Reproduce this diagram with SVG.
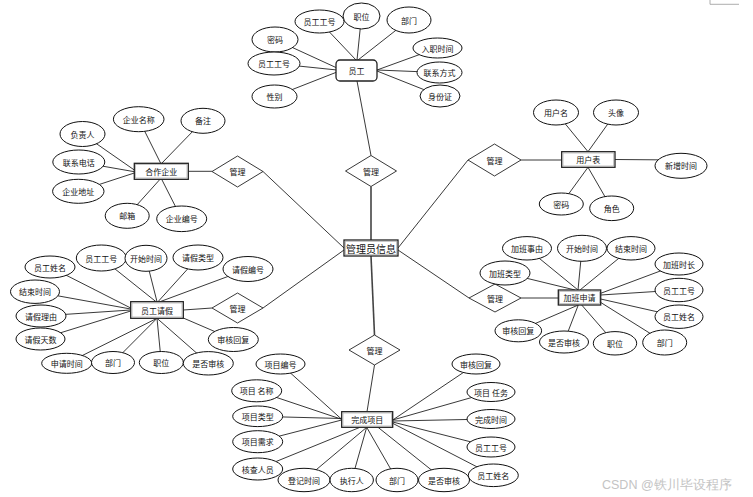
<svg xmlns="http://www.w3.org/2000/svg" width="753" height="497" viewBox="0 0 753 497">
<style>
text{font-family:"Noto Sans CJK SC","Liberation Sans",sans-serif;font-size:8px;fill:#111;text-anchor:middle;dominant-baseline:central}
.a{fill:#fff;stroke:#111;stroke-width:1}
.d{fill:#fff;stroke:#222;stroke-width:0.9}
.en{fill:#fff;stroke:#222;stroke-width:1.3}
.in{fill:none;stroke:#aaa;stroke-width:0.7}
.c line{stroke:#222;stroke-width:0.9}
.c .t{stroke:#444;stroke-width:1.6}
.big{font-size:10px}
.wm{font-family:"Liberation Sans",sans-serif;font-size:12.5px;fill:#c4c4c4;text-anchor:start}
</style>
<rect width="753" height="497" fill="#fff"/>
<path d="M710 0V4.3H739" fill="none" stroke="#999" stroke-width="0.8"/>
<g id="connectors" class="c">
<!-- employee -->
<line x1="319.5" y1="21.5" x2="356" y2="60"/>
<line x1="361.5" y1="16" x2="357" y2="60"/>
<line x1="409" y1="20" x2="358" y2="60"/>
<line x1="275" y1="39.5" x2="337" y2="68"/>
<line x1="274" y1="63.5" x2="337" y2="70"/>
<line x1="274.5" y1="96.5" x2="337" y2="72"/>
<line x1="437.5" y1="48" x2="377" y2="70"/>
<line x1="439.5" y1="72.5" x2="377" y2="70"/>
<line x1="440" y1="96" x2="377" y2="71"/>
<line x1="357" y1="81" x2="371" y2="155.5"/>
<!-- manager -->
<line class="t" x1="371" y1="186.5" x2="371" y2="240"/>
<line x1="263" y1="171.5" x2="344" y2="248"/>
<line x1="468" y1="160" x2="398" y2="248"/>
<line x1="469" y1="298" x2="398" y2="250"/>
<line x1="263" y1="308" x2="344" y2="250"/>
<line class="t" x1="371" y1="256" x2="374.5" y2="335"/>
<line x1="374.5" y1="365" x2="367" y2="411.7"/>
<!-- coop -->
<line x1="188.3" y1="171.3" x2="212" y2="171.3"/>
<line x1="138.7" y1="119.2" x2="160.7" y2="163.3"/>
<line x1="203" y1="120.8" x2="161.7" y2="163.3"/>
<line x1="82.5" y1="134" x2="134.3" y2="170"/>
<line x1="78.8" y1="162" x2="134.3" y2="171.7"/>
<line x1="78.3" y1="191.3" x2="134.3" y2="173"/>
<line x1="127.2" y1="215.8" x2="160" y2="179.3"/>
<line x1="181.7" y1="218.8" x2="161.7" y2="179.3"/>
<!-- user -->
<line x1="521" y1="160" x2="561.7" y2="160"/>
<line x1="556" y1="112.5" x2="588" y2="151.7"/>
<line x1="616" y1="112.5" x2="588" y2="151.7"/>
<line x1="615" y1="159.5" x2="681" y2="160"/>
<line x1="561.3" y1="204" x2="588" y2="167.3"/>
<line x1="611.7" y1="208.3" x2="588" y2="167.3"/>
<!-- leave -->
<line x1="183.3" y1="310" x2="212" y2="308"/>
<line x1="50" y1="267" x2="130.7" y2="308"/>
<line x1="35" y1="291.7" x2="130.7" y2="309"/>
<line x1="41" y1="316" x2="130.7" y2="310"/>
<line x1="40.5" y1="339" x2="130.7" y2="311"/>
<line x1="101.3" y1="258" x2="156" y2="301.7"/>
<line x1="146" y1="258.3" x2="157" y2="301.7"/>
<line x1="198" y1="257.5" x2="158" y2="301.7"/>
<line x1="248" y1="269" x2="160" y2="301.7"/>
<line x1="66.7" y1="363.3" x2="157" y2="318.3"/>
<line x1="113" y1="362.5" x2="157" y2="318.3"/>
<line x1="161.3" y1="362.5" x2="157" y2="318.3"/>
<line x1="208.3" y1="363.3" x2="157" y2="318.3"/>
<line x1="233.3" y1="339.5" x2="183.3" y2="318"/>
<!-- overtime -->
<line x1="521" y1="298" x2="558.3" y2="298"/>
<line x1="527" y1="248.3" x2="578" y2="290"/>
<line x1="582" y1="248.3" x2="578" y2="290"/>
<line x1="631" y1="248.3" x2="580" y2="290"/>
<line x1="505" y1="273" x2="575" y2="290"/>
<line x1="679" y1="264" x2="600.7" y2="293.3"/>
<line x1="679" y1="290" x2="600.7" y2="295"/>
<line x1="679" y1="316.7" x2="600.7" y2="299"/>
<line x1="518.3" y1="330.8" x2="578.3" y2="305"/>
<line x1="564" y1="342" x2="578.3" y2="305"/>
<line x1="615" y1="343.3" x2="581.7" y2="305"/>
<line x1="664.7" y1="342.5" x2="600" y2="302"/>
<!-- project -->
<line x1="280.5" y1="364" x2="341.7" y2="419.3"/>
<line x1="256.7" y1="390.8" x2="341.7" y2="419.3"/>
<line x1="257.7" y1="416.3" x2="341.7" y2="418.5"/>
<line x1="257.7" y1="441.7" x2="341.7" y2="420"/>
<line x1="257.7" y1="469" x2="360" y2="427.3"/>
<line x1="304" y1="480" x2="366.7" y2="427.3"/>
<line x1="351.7" y1="480" x2="366.7" y2="427.3"/>
<line x1="397" y1="480" x2="366.7" y2="427.3"/>
<line x1="444" y1="480" x2="378" y2="427.3"/>
<line x1="476" y1="364" x2="392.7" y2="420"/>
<line x1="491" y1="392" x2="392.7" y2="420"/>
<line x1="491" y1="419" x2="392.7" y2="421"/>
<line x1="491" y1="447" x2="392.7" y2="422"/>
<line x1="493.3" y1="475.3" x2="392.7" y2="423.3"/>
</g>
<!-- relationships -->
<g id="rel-employee"><polygon class="d" points="371,155.5 396.5,171 371,186.5 345.5,171"/><text x="371" y="171">管理</text></g>
<g id="rel-coop"><polygon class="d" points="237.5,156 263,171.5 237.5,187 212,171.5"/><text x="237.5" y="171.5">管理</text></g>
<g id="rel-user"><polygon class="d" points="494.5,144 521,160 494.5,176 468,160"/><text x="494.5" y="160">管理</text></g>
<g id="rel-overtime"><polygon class="d" points="495,284 521,298 495,312 469,298"/><text x="495" y="298">管理</text></g>
<g id="rel-leave"><polygon class="d" points="237.5,293 263,308 237.5,323 212,308"/><text x="237.5" y="308">管理</text></g>
<g id="rel-project"><polygon class="d" points="374.5,335 400,350 374.5,365 349,350"/><text x="374.5" y="350">管理</text></g>
<!-- employee -->
<g id="employee"><rect class="en" x="336" y="60" width="41" height="21" rx="4"/><text x="356.5" y="70.5">员工</text></g>
<g id="emp-no1"><ellipse class="a" cx="319.5" cy="21.5" rx="24.5" ry="11.5"/><text x="319.5" y="21.5">员工工号</text></g>
<g id="emp-dept"><ellipse class="a" cx="409" cy="20" rx="22" ry="13"/><text x="409" y="20">部门</text></g>
<g id="emp-pos"><ellipse class="a" cx="361.5" cy="16" rx="18.5" ry="13"/><text x="361.5" y="16">职位</text></g>
<g id="emp-pwd"><ellipse class="a" cx="275" cy="39.5" rx="23" ry="12.5"/><text x="275" y="39.5">密码</text></g>
<g id="emp-no2"><ellipse class="a" cx="274" cy="63.5" rx="26" ry="11.5"/><text x="274" y="63.5">员工工号</text></g>
<g id="emp-sex"><ellipse class="a" cx="274.5" cy="96.5" rx="22.5" ry="11.5"/><text x="274.5" y="96.5">性别</text></g>
<g id="emp-join"><ellipse class="a" cx="437.5" cy="48" rx="24.5" ry="10"/><text x="437.5" y="48">入职时间</text></g>
<g id="emp-contact"><ellipse class="a" cx="439.5" cy="72.5" rx="22.5" ry="10.5"/><text x="439.5" y="72.5">联系方式</text></g>
<g id="emp-id"><ellipse class="a" cx="440" cy="96" rx="20" ry="11"/><text x="440" y="96">身份证</text></g>
<!-- manager -->
<g id="manager"><rect class="en" x="344" y="240" width="54" height="16"/><rect class="in" x="345.3" y="241.3" width="51.4" height="13.4"/><text class="big" x="371" y="248">管理员信息</text></g>
<!-- user -->
<g id="user"><rect class="en" x="561.7" y="151.7" width="53.3" height="15.6"/><rect class="in" x="563" y="153" width="50.7" height="13"/><text x="588.3" y="159.5">用户表</text></g>
<g id="u-name"><ellipse class="a" cx="556" cy="112.5" rx="22.5" ry="12.5"/><text x="556" y="112.5">用户名</text></g>
<g id="u-avatar"><ellipse class="a" cx="616" cy="112.5" rx="22.5" ry="12.5"/><text x="616" y="112.5">头像</text></g>
<g id="u-time"><ellipse class="a" cx="681" cy="165.8" rx="26" ry="12.5"/><text x="681" y="165.8">新增时间</text></g>
<g id="u-pwd"><ellipse class="a" cx="561.3" cy="204" rx="22" ry="11"/><text x="561.3" y="204">密码</text></g>
<g id="u-role"><ellipse class="a" cx="611.7" cy="208.3" rx="22" ry="12.3"/><text x="611.7" y="208.3">角色</text></g>
<!-- coop -->
<g id="coop"><rect class="en" x="134.3" y="163.3" width="54" height="16"/><rect class="in" x="135.6" y="164.6" width="51.4" height="13.4"/><text x="161.3" y="171.3">合作企业</text></g>
<g id="c-name"><ellipse class="a" cx="138.7" cy="119.2" rx="25.3" ry="12.5"/><text x="138.7" y="119.2">企业名称</text></g>
<g id="c-note"><ellipse class="a" cx="203" cy="120.8" rx="22" ry="12.5"/><text x="203" y="120.8">备注</text></g>
<g id="c-owner"><ellipse class="a" cx="82.5" cy="134" rx="22.5" ry="12.5"/><text x="82.5" y="134">负责人</text></g>
<g id="c-phone"><ellipse class="a" cx="78.8" cy="162" rx="26" ry="12"/><text x="78.8" y="162">联系电话</text></g>
<g id="c-addr"><ellipse class="a" cx="78.3" cy="191.3" rx="25.7" ry="12"/><text x="78.3" y="191.3">企业地址</text></g>
<g id="c-mail"><ellipse class="a" cx="127.2" cy="215.8" rx="22" ry="12.5"/><text x="127.2" y="215.8">邮箱</text></g>
<g id="c-no"><ellipse class="a" cx="181.7" cy="218.8" rx="25" ry="12.8"/><text x="181.7" y="218.8">企业编号</text></g>
<!-- leave -->
<g id="leave"><rect class="en" x="130.7" y="301.7" width="52.6" height="16.6"/><rect class="in" x="132" y="303" width="50" height="14"/><text x="157" y="310">员工请假</text></g>
<g id="l-name"><ellipse class="a" cx="50" cy="267" rx="25" ry="11"/><text x="50" y="267">员工姓名</text></g>
<g id="l-no"><ellipse class="a" cx="101.3" cy="258" rx="25" ry="13"/><text x="101.3" y="258">员工工号</text></g>
<g id="l-start"><ellipse class="a" cx="146" cy="258.3" rx="21" ry="13"/><text x="146" y="258.3">开始时间</text></g>
<g id="l-type"><ellipse class="a" cx="198" cy="257.5" rx="25" ry="12.5"/><text x="198" y="257.5">请假类型</text></g>
<g id="l-code"><ellipse class="a" cx="248" cy="269" rx="25" ry="12.5"/><text x="248" y="269">请假编号</text></g>
<g id="l-end"><ellipse class="a" cx="35" cy="291.7" rx="24.5" ry="11.7"/><text x="35" y="291.7">结束时间</text></g>
<g id="l-reason"><ellipse class="a" cx="41" cy="316" rx="25" ry="11"/><text x="41" y="316">请假理由</text></g>
<g id="l-days"><ellipse class="a" cx="40.5" cy="339" rx="24.5" ry="11"/><text x="40.5" y="339">请假天数</text></g>
<g id="l-apply"><ellipse class="a" cx="66.7" cy="363.3" rx="25" ry="10"/><text x="66.7" y="363.3">申请时间</text></g>
<g id="l-dept"><ellipse class="a" cx="113" cy="362.5" rx="21.5" ry="11"/><text x="113" y="362.5">部门</text></g>
<g id="l-pos"><ellipse class="a" cx="161.3" cy="362.5" rx="22" ry="11"/><text x="161.3" y="362.5">职位</text></g>
<g id="l-audit"><ellipse class="a" cx="208.3" cy="363.3" rx="25" ry="11.7"/><text x="208.3" y="363.3">是否审核</text></g>
<g id="l-reply"><ellipse class="a" cx="233.3" cy="339.5" rx="25" ry="12"/><text x="233.3" y="339.5">审核回复</text></g>
<!-- overtime -->
<g id="overtime"><rect class="en" x="558.3" y="290" width="42.4" height="15"/><rect class="in" x="559.6" y="291.3" width="39.8" height="12.4"/><text x="579.5" y="297.5">加班申请</text></g>
<g id="o-reason"><ellipse class="a" cx="527" cy="248.3" rx="24.5" ry="11.7"/><text x="527" y="248.3">加班事由</text></g>
<g id="o-start"><ellipse class="a" cx="582" cy="248.3" rx="24.5" ry="13"/><text x="582" y="248.3">开始时间</text></g>
<g id="o-end"><ellipse class="a" cx="631" cy="248.3" rx="24" ry="11.7"/><text x="631" y="248.3">结束时间</text></g>
<g id="o-type"><ellipse class="a" cx="505" cy="273" rx="25" ry="12"/><text x="505" y="273">加班类型</text></g>
<g id="o-len"><ellipse class="a" cx="679" cy="264" rx="24" ry="11"/><text x="679" y="264">加班时长</text></g>
<g id="o-no"><ellipse class="a" cx="679" cy="290" rx="24" ry="11.7"/><text x="679" y="290">员工工号</text></g>
<g id="o-name"><ellipse class="a" cx="679" cy="316.7" rx="24" ry="11.7"/><text x="679" y="316.7">员工姓名</text></g>
<g id="o-reply"><ellipse class="a" cx="518.3" cy="330.8" rx="23.3" ry="11"/><text x="518.3" y="330.8">审核回复</text></g>
<g id="o-audit"><ellipse class="a" cx="564" cy="342" rx="24.5" ry="11"/><text x="564" y="342">是否审核</text></g>
<g id="o-pos"><ellipse class="a" cx="615" cy="343.3" rx="21.7" ry="11.7"/><text x="615" y="343.3">职位</text></g>
<g id="o-dept"><ellipse class="a" cx="664.7" cy="342.5" rx="22" ry="12.5"/><text x="664.7" y="342.5">部门</text></g>
<!-- project -->
<g id="project"><rect class="en" x="341.7" y="411.7" width="51" height="15.6"/><rect class="in" x="343" y="413" width="48.4" height="13"/><text x="367.2" y="419.5">完成项目</text></g>
<g id="p-code"><ellipse class="a" cx="280.5" cy="364" rx="24.5" ry="10"/><text x="280.5" y="364">项目编号</text></g>
<g id="p-name"><ellipse class="a" cx="256.7" cy="390.8" rx="25" ry="11"/><text x="256.7" y="390.8">项目 名称</text></g>
<g id="p-type"><ellipse class="a" cx="257.7" cy="416.3" rx="25" ry="10.3"/><text x="257.7" y="416.3">项目类型</text></g>
<g id="p-req"><ellipse class="a" cx="257.7" cy="441.7" rx="25" ry="11"/><text x="257.7" y="441.7">项目需求</text></g>
<g id="p-check"><ellipse class="a" cx="257.7" cy="469" rx="25" ry="11"/><text x="257.7" y="469">核查人员</text></g>
<g id="p-reg"><ellipse class="a" cx="304" cy="480" rx="26" ry="11.7"/><text x="304" y="480">登记时间</text></g>
<g id="p-exec"><ellipse class="a" cx="351.7" cy="480" rx="21.7" ry="11.7"/><text x="351.7" y="480">执行人</text></g>
<g id="p-dept"><ellipse class="a" cx="397" cy="480" rx="21" ry="11.7"/><text x="397" y="480">部门</text></g>
<g id="p-audit"><ellipse class="a" cx="444" cy="480" rx="25.5" ry="11.7"/><text x="444" y="480">是否审核</text></g>
<g id="p-ename"><ellipse class="a" cx="493.3" cy="475.3" rx="25" ry="11.3"/><text x="493.3" y="475.3">员工姓名</text></g>
<g id="p-eno"><ellipse class="a" cx="491" cy="447" rx="24" ry="10"/><text x="491" y="447">员工工号</text></g>
<g id="p-done"><ellipse class="a" cx="491" cy="419" rx="24" ry="9.5"/><text x="491" y="419">完成时间</text></g>
<g id="p-task"><ellipse class="a" cx="491" cy="392" rx="24" ry="9.5"/><text x="491" y="392">项目 任务</text></g>
<g id="p-reply"><ellipse class="a" cx="476" cy="364" rx="24" ry="10"/><text x="476" y="364">审核回复</text></g>
<text class="wm" x="602" y="485">CSDN @铁川毕设程序</text>
</svg>
